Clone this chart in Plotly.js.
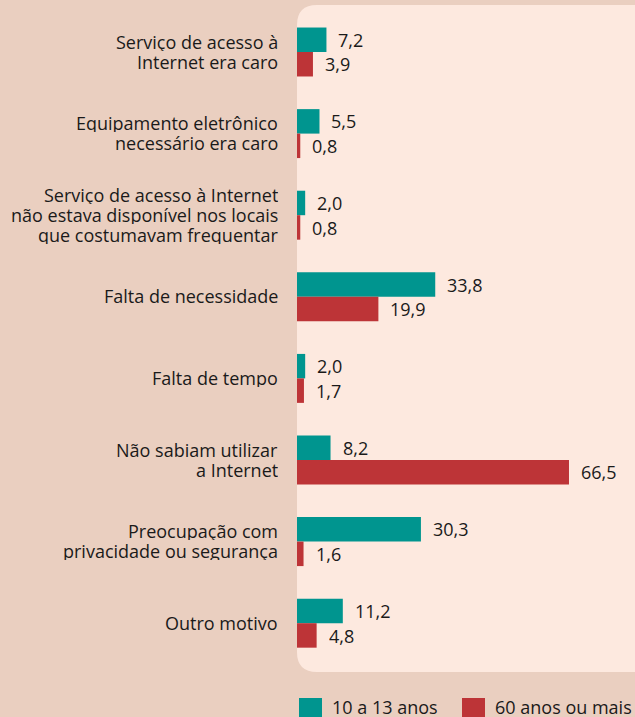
<!DOCTYPE html>
<html><head><meta charset="utf-8">
<script src="https://cdn.plot.ly/plotly-3.0.1.min.js"></script>
<style>html,body{margin:0;padding:0;background:#eacfc0;}#chart{width:635px;height:717px;}</style>
</head><body><div id="chart"></div>
<script>
const categories = [
  "Serviço de acesso à<br>Internet era caro",
  "Equipamento eletrônico<br>necessário era caro",
  "Serviço de acesso à Internet<br>não estava disponível nos locais<br>que costumavam frequentar",
  "Falta de necessidade",
  "Falta de tempo",
  "Não sabiam utilizar<br>a Internet",
  "Preocupação com<br>privacidade ou segurança",
  "Outro motivo"
];
const seriesNames = ["10 a 13 anos", "60 anos ou mais"];
const kids = [7.2, 5.5, 2.0, 33.8, 2.0, 8.2, 30.3, 11.2];
const seniors = [3.9, 0.8, 0.8, 19.9, 1.7, 66.5, 1.6, 4.8];
const colors = ["#00958f", "#bd3437"];

const fmt = v => v.toFixed(1).replace('.', ',');
const FONT = "'Open Sans', Lato, sans-serif";
const TXT = "#1a1a1a";
const FS = 18;

const traces = [kids, seniors].map((vals, i) => ({
  type: 'bar', orientation: 'h', name: seriesNames[i],
  y: categories, x: vals, marker: {color: colors[i]},
  hoverinfo: 'skip', showlegend: false
}));

const W = 338, H = 667;
const px = x => (x - 297) / W;
const py = y => (672 - y) / H;

const annotations = [];
// value labels
[kids, seniors].forEach((vals, i) => {
  vals.forEach((v, j) => {
    annotations.push({
      x: v, y: categories[j], xref: 'x', yref: 'y', text: fmt(v),
      showarrow: false, xanchor: 'left', yanchor: 'middle',
      xshift: 11, yshift: i === 0 ? 12.3 : -12.3,
      height: 20, borderpad: 0,
      font: {family: FONT, size: FS, color: TXT}
    });
  });
});
// category labels, one line each with tight line spacing
categories.forEach(cat => {
  const lines = cat.split('<br>');
  const n = lines.length;
  lines.forEach((ln, k) => {
    annotations.push({
      x: px(279), y: cat, xref: 'paper', yref: 'y', text: ln,
      showarrow: false, xanchor: 'right', yanchor: 'middle',
      yshift: ((n - 1) / 2 - k) * 20 + 1,
      height: 19, borderpad: 0,
      font: {family: FONT, size: FS, color: TXT}
    });
  });
});

// legend (custom)
const legendX = [299, 462];
legendX.forEach((lx, i) => {
  annotations.push({
    x: px(lx + 32), y: py(707), xref: 'paper', yref: 'paper',
    text: seriesNames[i], showarrow: false, xanchor: 'left', yanchor: 'middle',
    height: 18, borderpad: 0,
    font: {family: FONT, size: FS, color: TXT}
  });
});

const rx = 20 / W, ry = 20 / H;
const shapes = [{
  type: 'path', xref: 'paper', yref: 'paper', layer: 'below',
  path: `M 1.1,1 L ${rx},1 Q 0,1 0,${1 - ry} L 0,${ry} Q 0,0 ${rx},0 L 1.1,0 Z`,
  fillcolor: '#fde9df', line: {width: 0}
}];
legendX.forEach((lx, i) => {
  shapes.push({
    type: 'rect', xref: 'paper', yref: 'paper',
    x0: px(lx), x1: px(lx + 23), y0: py(698), y1: py(721),
    fillcolor: colors[i], line: {width: 0}
  });
});

const layout = {
  width: 635, height: 717,
  margin: {l: 297, r: 0, t: 5, b: 45, pad: 0},
  paper_bgcolor: '#eacfc0', plot_bgcolor: 'rgba(0,0,0,0)',
  barmode: 'group', bargap: 0.4, bargroupgap: 0,
  showlegend: false,
  xaxis: {range: [0, 338 / 4.09], showticklabels: false, showgrid: false, zeroline: false, showline: false, fixedrange: true},
  yaxis: {
    type: 'category', range: [7.598, -0.576], showgrid: false, zeroline: false, showline: false,
    showticklabels: false, ticks: '', automargin: false
  },
  font: {family: FONT, color: TXT},
  annotations, shapes
};
Plotly.newPlot('chart', traces, layout, {displayModeBar: false, staticPlot: true});
</script></body></html>
